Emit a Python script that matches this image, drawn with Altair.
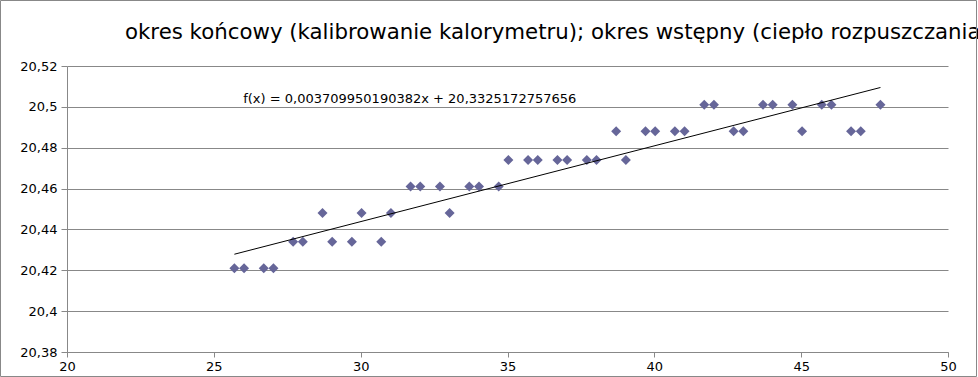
import altair as alt
import pandas as pd

title_text = "okres końcowy (kalibrowanie kalorymetru); okres wstępny (ciepło rozpuszczania)"
equation_text = "f(x) = 0,003709950190382x + 20,3325172757656"
slope = 0.003709950190382
intercept = 20.3325172757656

time_x = [25.7, 26.03, 26.7, 27.03, 27.7, 28.03, 28.7, 29.03, 29.7, 30.03,
          30.7, 31.03, 31.7, 32.03, 32.7, 33.03, 33.7, 34.03, 34.7, 35.03,
          35.7, 36.03, 36.7, 37.03, 37.7, 38.03, 38.7, 39.03, 39.7, 40.03,
          40.7, 41.03, 41.7, 42.03, 42.7, 43.03, 43.7, 44.03, 44.7, 45.03,
          45.7, 46.03, 46.7, 47.03, 47.7]
temp_y = [20.421, 20.421, 20.421, 20.421, 20.434, 20.434, 20.448, 20.434, 20.434, 20.448,
          20.434, 20.448, 20.461, 20.461, 20.461, 20.448, 20.461, 20.461, 20.461, 20.474,
          20.474, 20.474, 20.474, 20.474, 20.474, 20.474, 20.488, 20.474, 20.488, 20.488,
          20.488, 20.488, 20.501, 20.501, 20.488, 20.488, 20.501, 20.501, 20.501, 20.488,
          20.501, 20.501, 20.488, 20.488, 20.501]

x_ticks = [20, 25, 30, 35, 40, 45, 50]
y_ticks = [20.38, 20.40, 20.42, 20.44, 20.46, 20.48, 20.50, 20.52]

pts = pd.DataFrame({"x": time_x, "y": temp_y})
x_ends = [min(time_x), max(time_x)]
trend = pd.DataFrame({"x": x_ends, "y": [slope * v + intercept for v in x_ends]})
label_df = pd.DataFrame({"x": [26.0], "y": [20.504], "t": [equation_text]})
title_df = pd.DataFrame({"t": [title_text]})

GRID = "#888888"
FONT = "DejaVu Sans"

xs = alt.Scale(domain=[20, 50], nice=False, zero=False)
ys = alt.Scale(domain=[20.38, 20.52], nice=False, zero=False)

x_axis = alt.Axis(values=x_ticks, grid=False, title=None, domainColor=GRID, tickColor=GRID,
                  tickSize=5, labelPadding=3, labelFontSize=13, labelFont=FONT,
                  labelColor="black", labelFlush=False, labelOverlap=False)
y_axis = alt.Axis(values=y_ticks, grid=True, gridColor=GRID, title=None, domainColor=GRID,
                  tickColor=GRID, tickSize=6, labelPadding=4, labelFontSize=13,
                  labelFont=FONT, labelColor="black", labelFlush=False, labelOverlap=False,
                  labelExpr="replace(format(datum.value, '.2~f'), '.', ',')")

base_pts = alt.Chart(pts).mark_point(shape="diamond", filled=True, size=100,
                                     color="#666699", opacity=1).encode(
    x=alt.X("x:Q", scale=xs, axis=x_axis),
    y=alt.Y("y:Q", scale=ys, axis=y_axis),
)

line = alt.Chart(trend).mark_line(color="black", strokeWidth=1).encode(
    x=alt.X("x:Q", scale=xs),
    y=alt.Y("y:Q", scale=ys),
)

eq = alt.Chart(label_df).mark_text(align="left", baseline="middle", font=FONT,
                                   fontSize=13, color="black").encode(
    x=alt.X("x:Q", scale=xs),
    y=alt.Y("y:Q", scale=ys),
    text="t:N",
)

title_mark = alt.Chart(title_df).mark_text(align="left", baseline="middle", font=FONT,
                                           fontSize=21.3, color="black", clip=False).encode(
    x=alt.value(58), y=alt.value(-33), text="t:N"
)

frame = alt.Chart(pd.DataFrame({"a": [0]})).mark_rect(
    filled=False, stroke=GRID, strokeWidth=1, clip=False).encode(
    x=alt.value(-66.5), x2=alt.value(909.5), y=alt.value(-65.5), y2=alt.value(310.5)
)

chart = alt.layer(base_pts, line, eq, title_mark, frame).properties(
    width=881, height=286,
    autosize=alt.AutoSizeParams(type="none"),
    padding={"left": 67, "top": 66, "right": 30, "bottom": 25},
    background="white",
).configure_view(strokeWidth=0)

chart.save("out.html", embed_options={"renderer": "svg", "actions": False})
